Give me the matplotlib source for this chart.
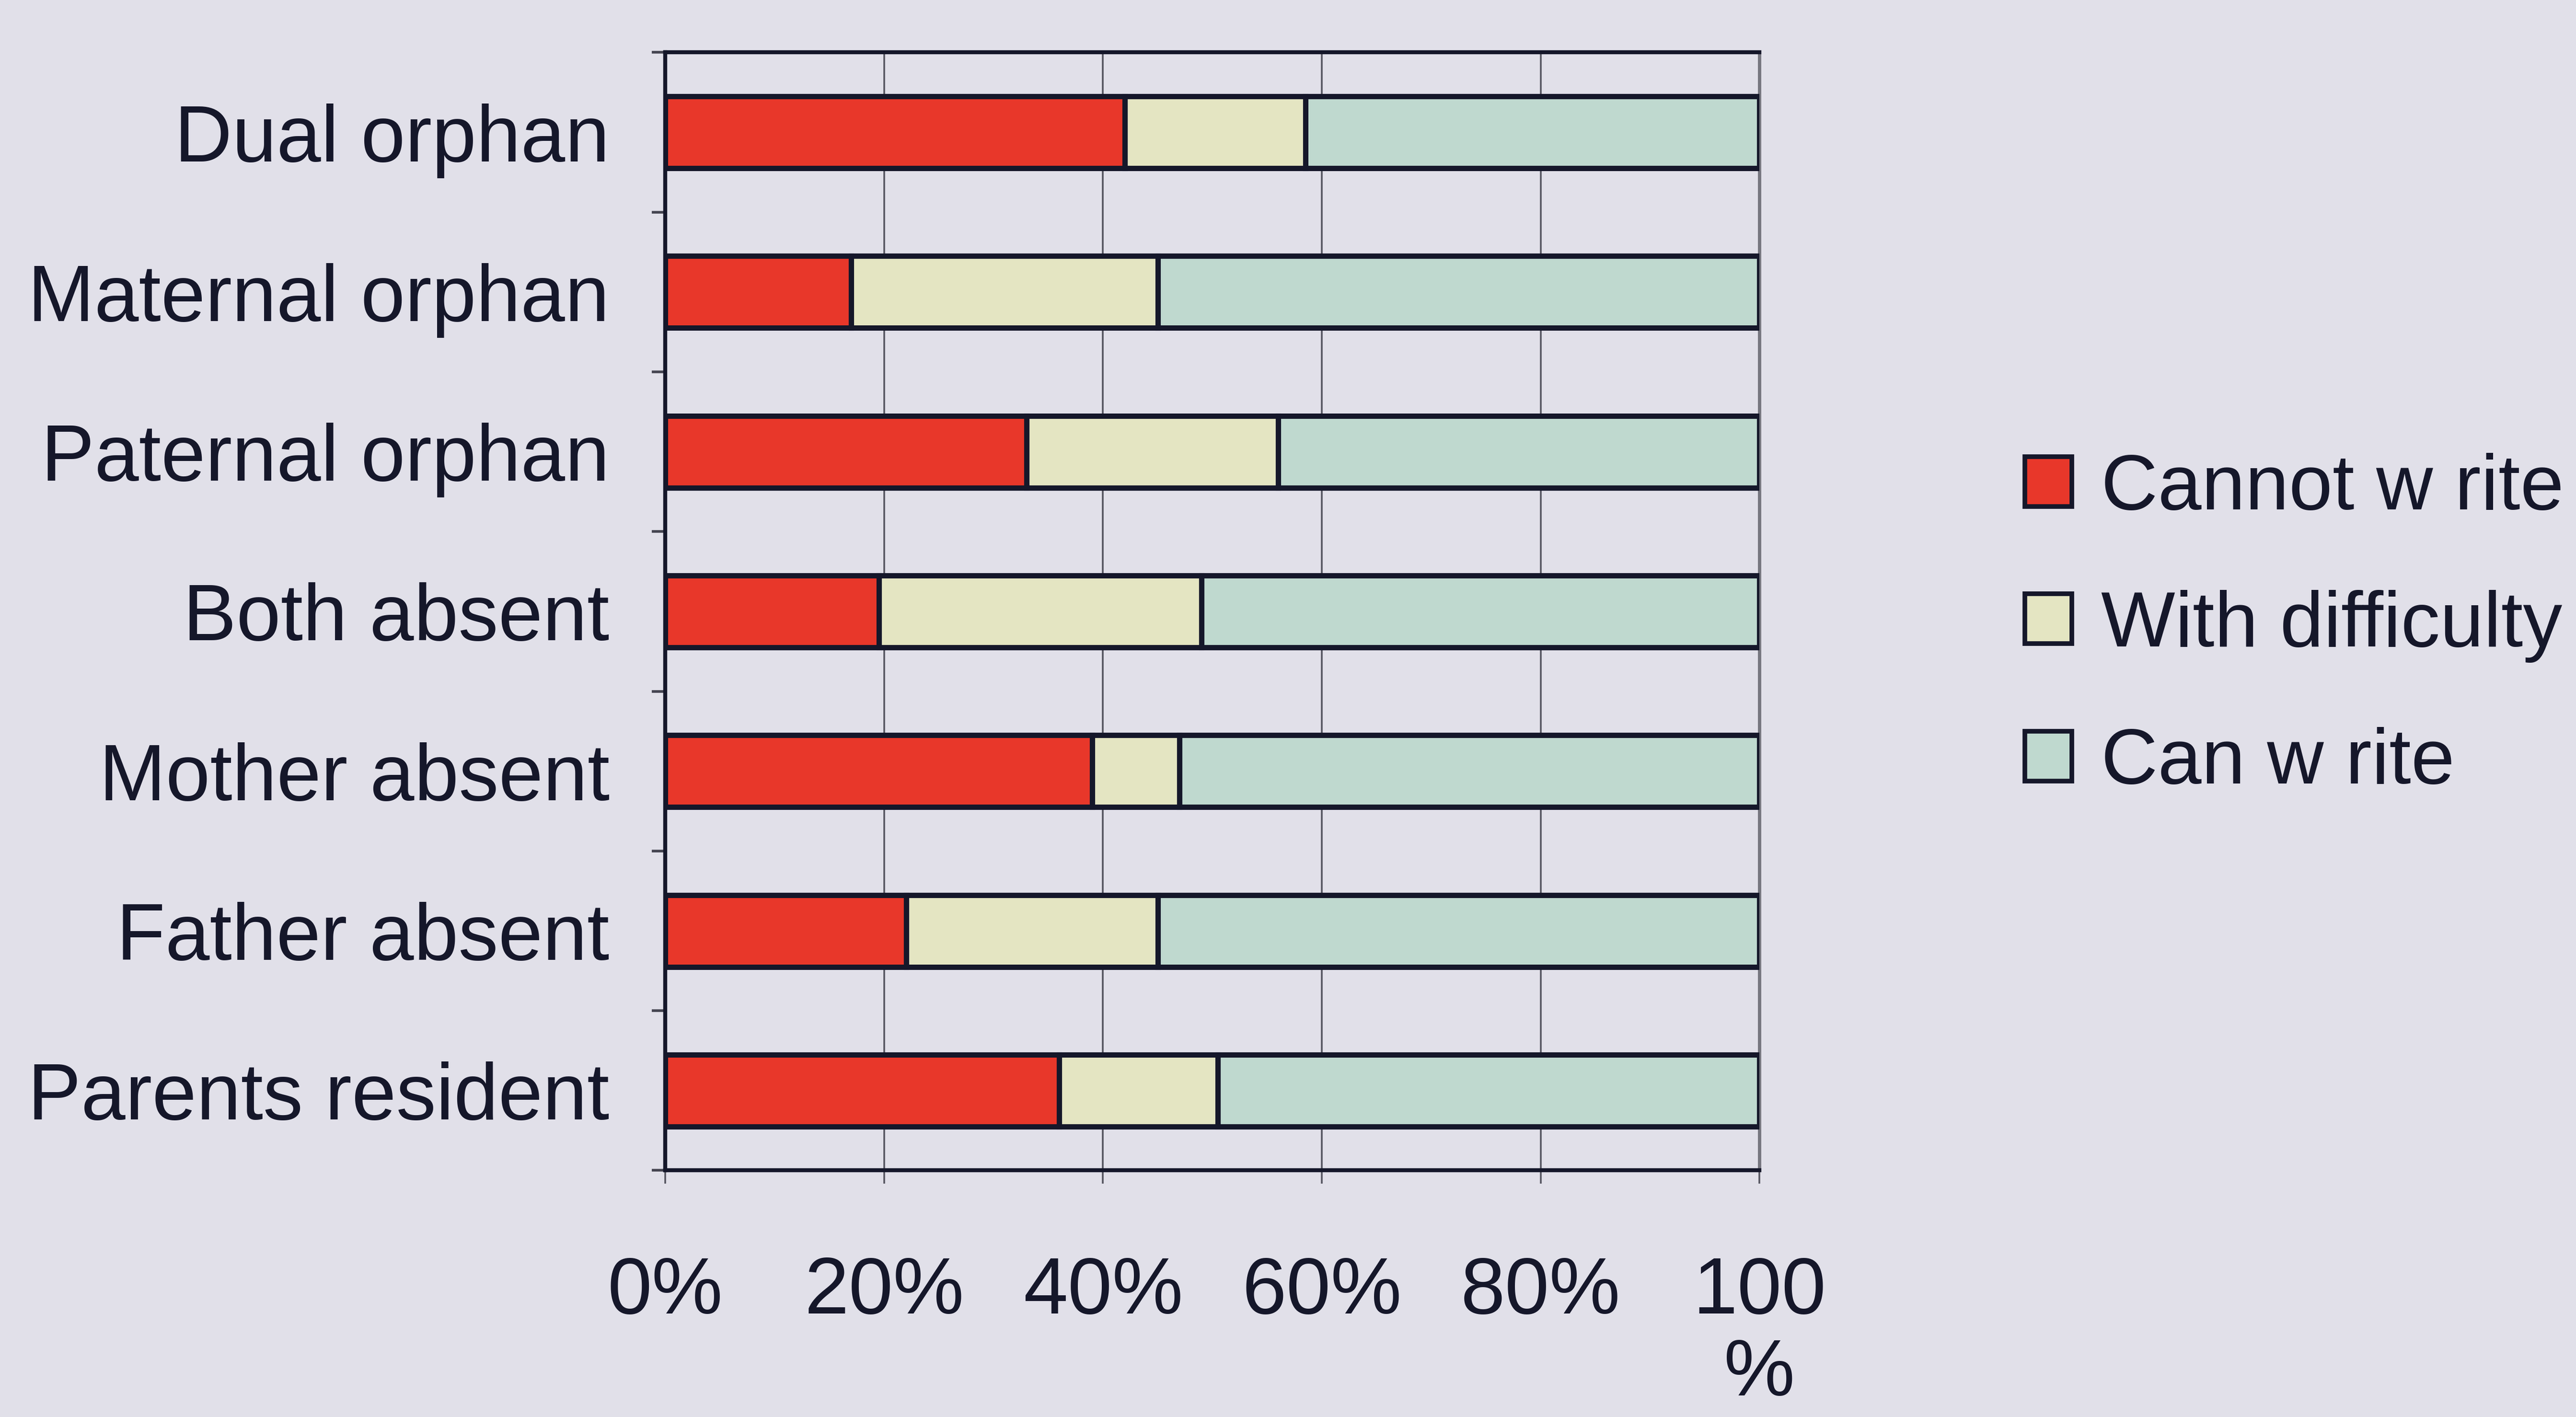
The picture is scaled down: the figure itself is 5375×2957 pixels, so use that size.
import matplotlib
matplotlib.use("Agg")
import matplotlib.pyplot as plt
import numpy as np

# share of children (%) by ability to write, per household situation
groups = ["Dual orphan", "Maternal orphan", "Paternal orphan", "Both absent",
          "Mother absent", "Father absent", "Parents resident"]
cannot_write = [42, 17, 33, 19.5, 39, 22, 36]
with_difficulty = [16.5, 28, 23, 29.5, 8, 23, 14.5]
can_write = [41.5, 55, 44, 51, 53, 55, 49.5]

series_names = ["Cannot w rite", "With difficulty", "Can w rite"]
x_ticks = [0, 20, 40, 60, 80, 100]
x_ticklabels = ["0%", "20%", "40%", "60%", "80%", "100\n%"]

bg = "#e1e0e9"
ink = "#15172a"
colors = ["#e8372a", "#e4e5c2", "#bfd9cf"]

plt.rcParams['font.family'] = ['Liberation Sans', 'DejaVu Sans']

fig = plt.figure(figsize=(26.875, 14.785), dpi=200, facecolor=bg)
ax = fig.add_axes([0.2583, 0.174, 0.4247, 0.789])
ax.set_facecolor(bg)

ypos = np.arange(len(groups))
left = np.zeros(len(groups))
for vals, name, col in zip([cannot_write, with_difficulty, can_write], series_names, colors):
  ax.barh(ypos, vals, height=0.45, left=left, color=col, edgecolor=ink,
          linewidth=4, label=name, zorder=3)
  left += np.array(vals)

ax.set_xlim(0, 100)
ax.set_ylim(len(groups) - 0.5, -0.5)

ax.set_xticks(x_ticks)
ax.set_xticklabels(x_ticklabels, fontsize=60, color=ink, linespacing=1.12)
ax.xaxis.grid(True, color="#555560", linewidth=1.3, zorder=1)
ax.tick_params(axis="x", direction="out", length=10, width=1.3, color="#555560", pad=54)

ax.set_yticks(ypos)
ax.set_yticklabels(groups, fontsize=60, color=ink)
ax.set_yticks(np.arange(len(groups) + 1) - 0.5, minor=True)
ax.tick_params(axis="y", which="major", length=0, pad=42)
ax.tick_params(axis="y", which="minor", direction="out", length=10, width=2, color="#444450")

for side in ["left", "top", "bottom"]:
  ax.spines[side].set_color(ink)
  ax.spines[side].set_linewidth(3)
ax.spines["right"].set_color("#777780")
ax.spines["right"].set_linewidth(2.5)

leg = ax.legend(loc="center left", bbox_to_anchor=(0.786, 0.558),
                bbox_transform=fig.transFigure, frameon=False, fontsize=59,
                handlelength=0.6, handleheight=0.6, handletextpad=0.37,
                labelspacing=0.82, borderpad=0, borderaxespad=0)
for t in leg.get_texts():
  t.set_color(ink)
for h in leg.legend_handles:
  h.set_linewidth(3.5)

fig.savefig("out.png", dpi=200, facecolor=bg)
